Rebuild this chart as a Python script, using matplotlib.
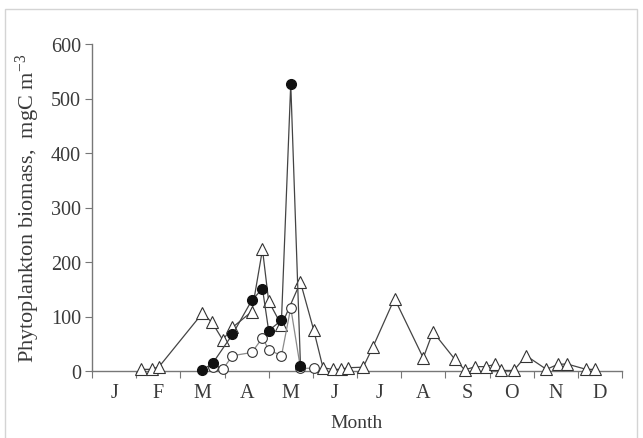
import matplotlib.pyplot as plt
from matplotlib.patches import Rectangle
import numpy as np

# month axis: 0 = start of January, 12 = end of December
meses = ['J', 'F', 'M', 'A', 'M', 'J', 'J', 'A', 'S', 'O', 'N', 'D']

# open triangles
tri_x = [1.12, 1.35, 1.52, 2.50, 2.72, 2.96, 3.18, 3.62, 3.86, 4.00, 4.29, 4.72,
         5.02, 5.23, 5.45, 5.63, 5.80, 6.14, 6.36, 6.85, 7.50, 7.72, 8.21, 8.44,
         8.68, 8.91, 9.12, 9.25, 9.55, 9.83, 10.29, 10.54, 10.75, 11.19, 11.38]
tri_y = [3, 3, 8, 106, 89, 57, 80, 109, 223, 128, 84, 163,
         75, 6, 3, 3, 6, 7, 44, 133, 24, 72, 22, 2,
         8, 8, 12, 1, 1, 28, 3, 12, 13, 3, 3]

# filled circles
llenos_x = [2.50, 2.73, 3.18, 3.62, 3.86, 4.00, 4.29, 4.50, 4.72]
llenos_y = [2, 14, 67, 130, 151, 74, 93, 527, 10]

# open circles
vacios_x = [2.73, 2.96, 3.18, 3.62, 3.86, 4.00, 4.29, 4.50, 4.72, 5.02]
vacios_y = [7, 3, 28, 34, 61, 39, 28, 116, 5, 5]

plt.rcParams['font.family'] = ['Liberation Serif', 'DejaVu Serif']
plt.rcParams['mathtext.fontset'] = 'custom'
plt.rcParams['mathtext.rm'] = 'Liberation Serif'
plt.rcParams['mathtext.it'] = 'Liberation Serif:italic'

fig = plt.figure(figsize=(6.43, 4.39), dpi=100)
ax = fig.add_axes([92/643, 1 - 372/439, 530/643, 327/439])

gris = '#3a3a3a'
ax.plot(tri_x, tri_y, color='#444444', lw=0.9, marker='^', ms=8,
        mfc='white', mec='#333333', mew=0.8, clip_on=False, zorder=3)
ax.plot(vacios_x, vacios_y, color='#8a8a8a', lw=0.9, marker='o', ms=7,
        mfc='white', mec='#333333', mew=0.8, clip_on=False, zorder=4)
ax.plot(llenos_x, llenos_y, color='#444444', lw=0.9, marker='o', ms=7,
        mfc='#111111', mec='#111111', clip_on=False, zorder=5)

ax.set_xlim(0, 12)
ax.set_ylim(0, 600)
for lado in ['top', 'right']:
    ax.spines[lado].set_visible(False)
for lado in ['left', 'bottom']:
    ax.spines[lado].set_color('#777777')
    ax.spines[lado].set_linewidth(1)

ax.set_yticks(np.arange(0, 601, 100))
ax.tick_params(axis='y', direction='out', length=5, color='#777777',
               labelsize=14.5, labelcolor=gris, pad=3)

ax.set_xticks(np.arange(0, 13))
ax.set_xticklabels([])
ax.set_xticks(np.arange(0.5, 12), minor=True)
ax.set_xticklabels(meses, minor=True)
ax.tick_params(axis='x', which='major', direction='out', length=5, color='#777777')
ax.tick_params(axis='x', which='minor', length=0, labelsize=14.5,
               labelcolor=gris, pad=9)

ax.set_xlabel('Month', fontsize=14, color=gris, labelpad=8)
ax.set_ylabel(r'Phytoplankton biomass,  mgC m$^{-3}$', fontsize=16,
              color=gris, labelpad=6)

# light frame around the figure
fig.add_artist(Rectangle((5/643, -0.05), 632/643, 1.05 - 10/439,
                         transform=fig.transFigure, fill=False,
                         edgecolor='#d4d4d4', lw=1))

fig.savefig('out.png', dpi=100)
